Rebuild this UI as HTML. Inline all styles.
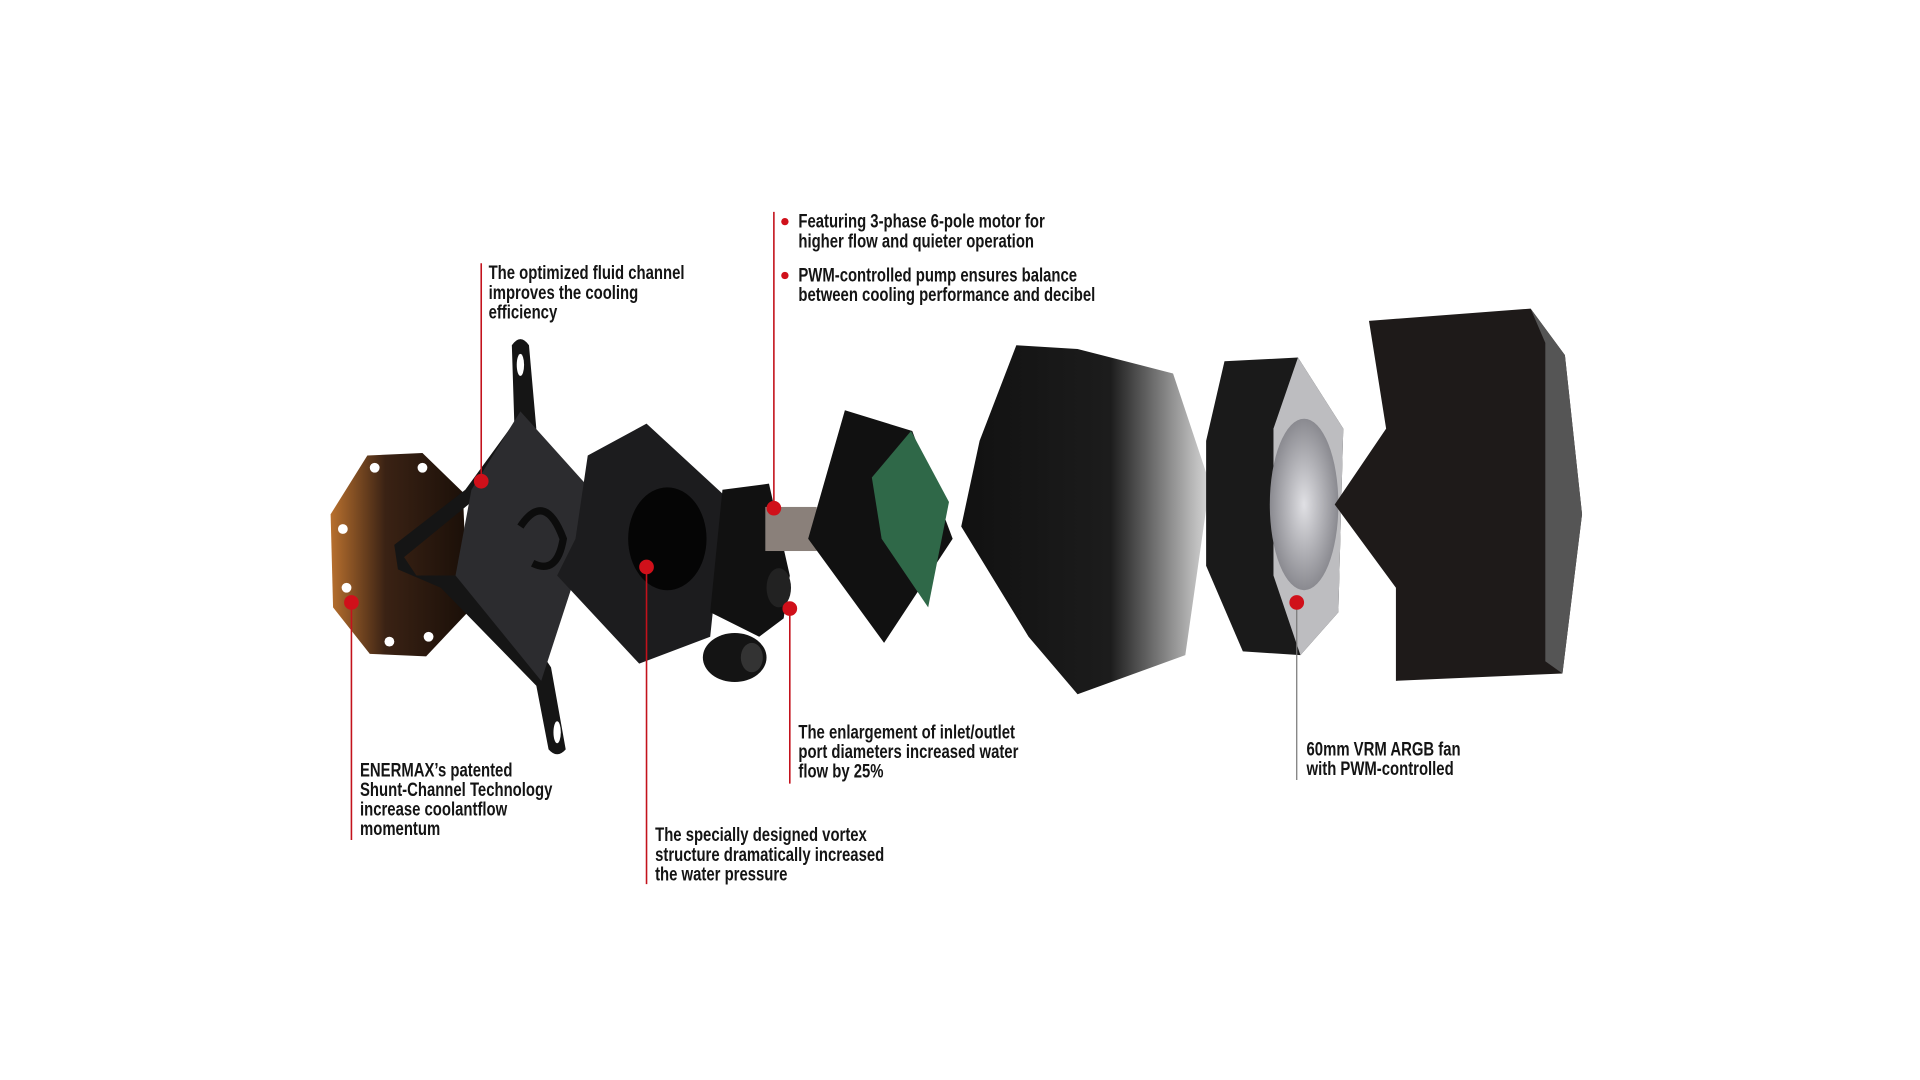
<!DOCTYPE html>
<html><head><meta charset="utf-8"><style>
html,body{margin:0;padding:0;background:#fff;width:1920px;height:1080px;overflow:hidden}
svg{display:block}
text{font-family:"Liberation Sans Narrow","Liberation Sans",sans-serif;font-weight:bold;font-size:16px;fill:#141414}
</style></head><body>
<svg width="1920" height="1080" viewBox="0 0 1568 882" preserveAspectRatio="none" xmlns="http://www.w3.org/2000/svg">
<defs>
<linearGradient id="cu" x1="0" x2="1"><stop offset="0" stop-color="#b8702e"/><stop offset="0.4" stop-color="#3a2214"/><stop offset="1" stop-color="#1a0f08"/></linearGradient>
<linearGradient id="cov" x1="0" x2="1"><stop offset="0" stop-color="#111"/><stop offset="0.6" stop-color="#1c1c1c"/><stop offset="1" stop-color="#d8d8d8"/></linearGradient>
<radialGradient id="fanc"><stop offset="0" stop-color="#e0e0e4"/><stop offset="1" stop-color="#8a8a90"/></radialGradient>
</defs>
<polygon points="300,372 345,370 378,402 382,500 348,536 302,534 272,496 270,420" fill="url(#cu)"/>
<circle cx="306" cy="382" r="4" fill="#fff"/><circle cx="345" cy="382" r="4" fill="#fff"/>
<circle cx="280" cy="432" r="4" fill="#fff"/><circle cx="283" cy="480" r="4" fill="#fff"/>
<circle cx="318" cy="524" r="4" fill="#fff"/><circle cx="350" cy="520" r="4" fill="#fff"/>
<path d="M418,282 Q425,272 432,282 L438,350 L385,410 L330,455 L340,470 L400,470 L450,545 L462,612 Q455,620 448,612 L438,560 L360,480 L325,465 L322,445 L380,400 L420,345 Z" fill="#151515"/>
<ellipse cx="425" cy="298" rx="3" ry="9" fill="#fff"/><ellipse cx="455" cy="598" rx="3" ry="9" fill="#fff"/>
<polygon points="425,336 478,395 470,470 442,556 372,470 385,400" fill="#2c2c2f"/>
<path d="M425,430 q20,-30 35,10 q-5,30 -25,20" fill="none" stroke="#0c0c0c" stroke-width="6"/>
<polygon points="528,346 592,405 580,520 522,542 455,470 470,440 480,372" fill="#1c1c1e"/>
<ellipse cx="545" cy="440" rx="32" ry="42" fill="#050505"/>
<polygon points="590,400 628,395 645,470 640,505 620,520 580,500 585,450" fill="#111"/>
<ellipse cx="600" cy="537" rx="26" ry="20" fill="#141414"/><ellipse cx="614" cy="537" rx="9" ry="12" fill="#333"/>
<ellipse cx="636" cy="480" rx="10" ry="16" fill="#222"/>
<rect x="625" y="414" width="42" height="36" fill="#8a807a"/>
<polygon points="690,335 745,352 778,440 722,525 660,440" fill="#111"/>
<polygon points="744,352 775,410 758,496 720,440 712,390" fill="#2f6848"/>
<polygon points="830,282 880,285 958,305 988,395 968,535 880,567 840,520 785,430 800,360" fill="url(#cov)"/>
<polygon points="1000,295 1060,292 1097,350 1093,500 1062,535 1015,532 985,462 985,360" fill="#1a1a1a"/>
<polygon points="1060,292 1097,350 1093,500 1062,535 1040,470 1040,350" fill="#bdbdc0"/>
<ellipse cx="1065" cy="412" rx="28" ry="70" fill="url(#fanc)"/>
<polygon points="1118,262 1250,252 1278,290 1292,420 1276,550 1140,556 1140,480 1090,412 1132,350" fill="#1e1a19"/>
<polygon points="1250,252 1278,290 1292,420 1276,550 1262,540 1262,280" fill="#555"/>
<g stroke="#c3121c" stroke-width="1.3">
<line x1="287" y1="492" x2="287" y2="686"/>
<line x1="393" y1="215" x2="393" y2="393"/>
<line x1="528" y1="463" x2="528" y2="722"/>
<line x1="632" y1="173" x2="632" y2="415"/>
<line x1="645" y1="497" x2="645" y2="640"/>
</g>
<line x1="1059" y1="492" x2="1059" y2="637" stroke="#777" stroke-width="1"/>
<g fill="#d0101a">
<circle cx="287" cy="492" r="6"/><circle cx="393" cy="393" r="6"/><circle cx="528" cy="463" r="6"/>
<circle cx="632" cy="415" r="6"/><circle cx="645" cy="497" r="6"/><circle cx="1059" cy="492" r="6"/>
<circle cx="641" cy="181" r="3"/><circle cx="641" cy="225" r="3"/>
</g>
<g transform="translate(652,0) scale(0.76,1)">
<text x="0" y="186">Featuring 3-phase 6-pole motor for</text>
<text x="0" y="202">higher flow and quieter operation</text>
<text x="0" y="230">PWM-controlled pump ensures balance</text>
<text x="0" y="246">between cooling performance and decibel</text>
</g>
<g transform="translate(399,0) scale(0.76,1)">
<text x="0" y="228">The optimized fluid channel</text>
<text x="0" y="244">improves the cooling</text>
<text x="0" y="260">efficiency</text>
</g>
<g transform="translate(294,0) scale(0.76,1)">
<text x="0" y="634">ENERMAX’s patented</text>
<text x="0" y="650">Shunt-Channel Technology</text>
<text x="0" y="666">increase coolantflow</text>
<text x="0" y="682">momentum</text>
</g>
<g transform="translate(535,0) scale(0.76,1)">
<text x="0" y="687">The specially designed vortex</text>
<text x="0" y="703">structure dramatically increased</text>
<text x="0" y="719">the water pressure</text>
</g>
<g transform="translate(652,0) scale(0.76,1)">
<text x="0" y="603">The enlargement of inlet/outlet</text>
<text x="0" y="619">port diameters increased water</text>
<text x="0" y="635">flow by 25%</text>
</g>
<g transform="translate(1067,0) scale(0.76,1)">
<text x="0" y="617">60mm VRM ARGB fan</text>
<text x="0" y="633">with PWM-controlled</text>
</g>
</svg>
</body></html>
